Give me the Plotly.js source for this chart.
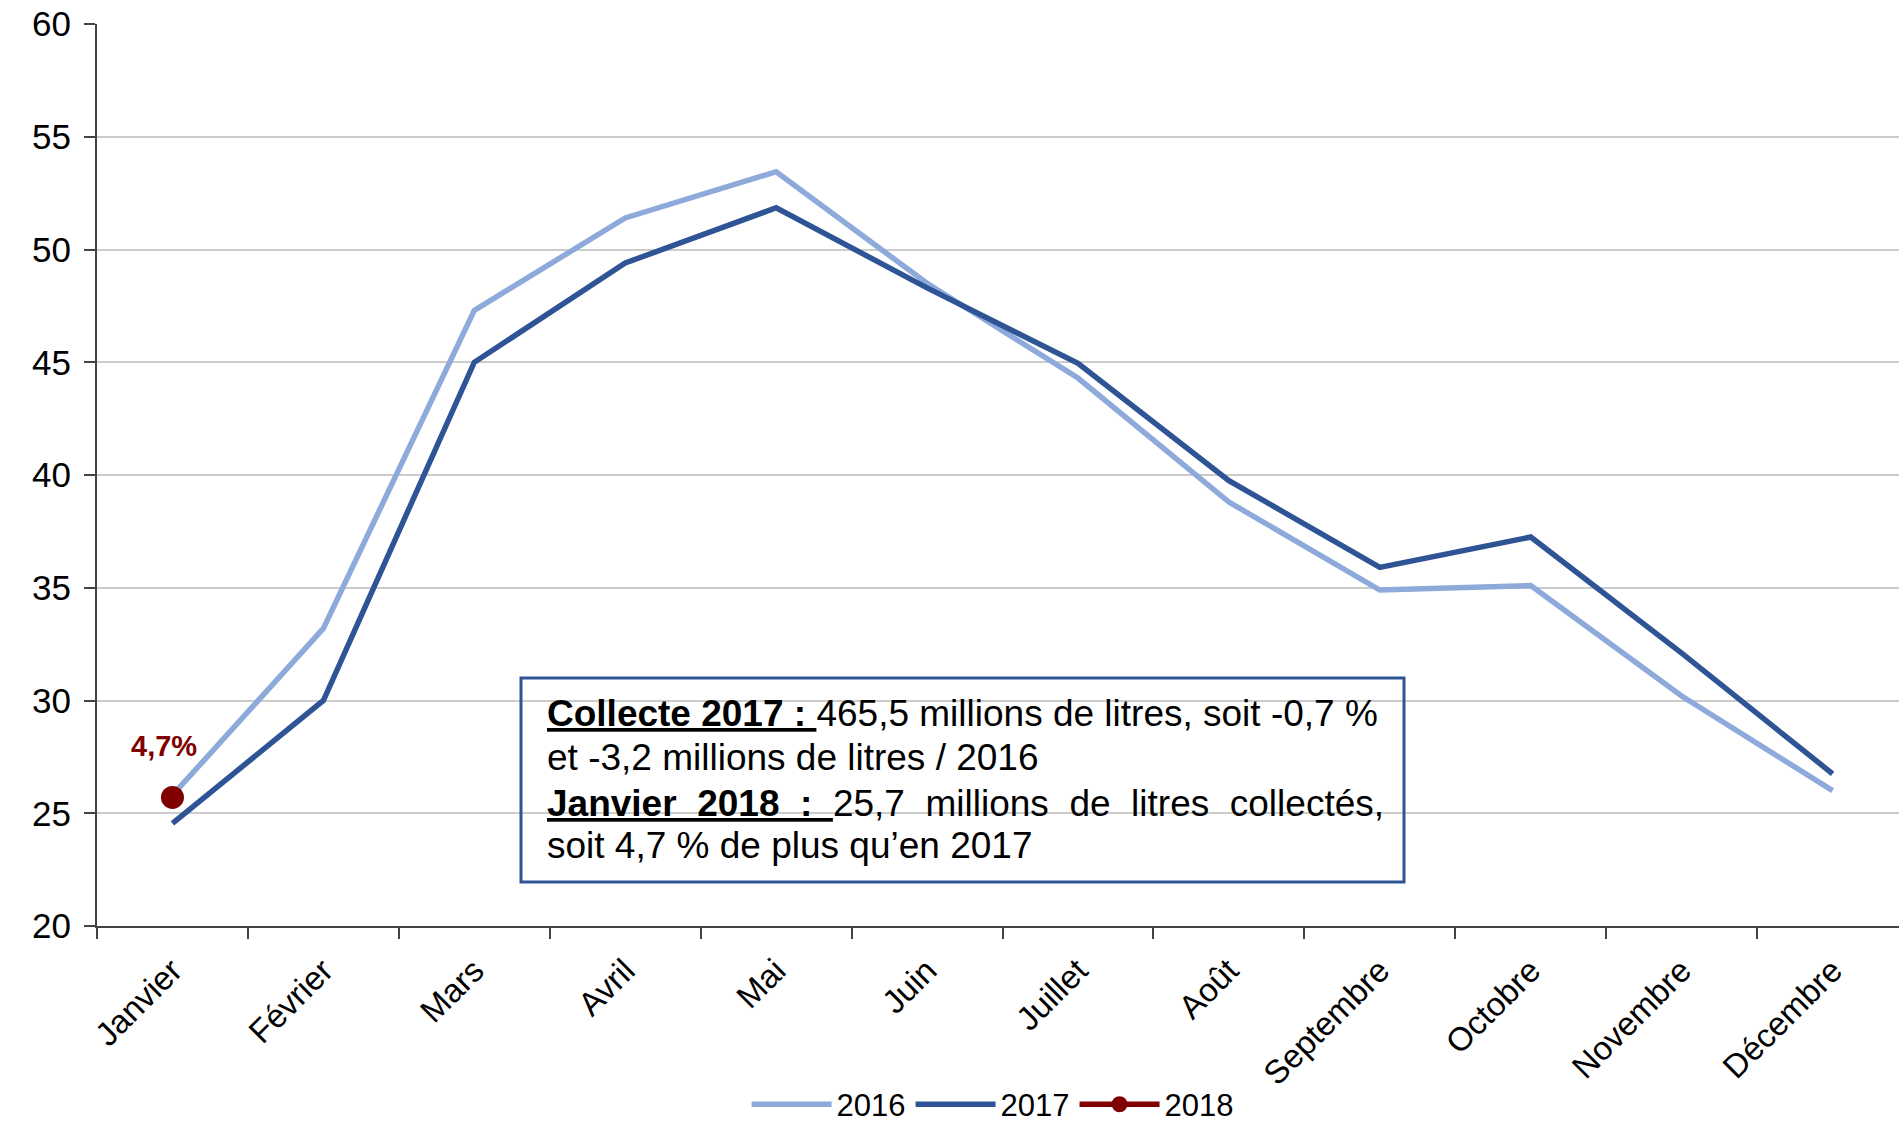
<!DOCTYPE html>
<html>
<head>
<meta charset="utf-8">
<script src="https://cdn.plot.ly/plotly-3.0.1.min.js"></script>
<style>html,body{margin:0;padding:0;background:#fff;}#chart{width:1899px;height:1124px;}</style>
</head>
<body>
<div id="chart"></div>
<script>
var months = ["Janvier","Février","Mars","Avril","Mai","Juin","Juillet","Août","Septembre","Octobre","Novembre","Décembre"];
var y2016 = [25.8, 33.2, 47.3, 51.4, 53.45, 48.5, 44.3, 38.8, 34.9, 35.1, 30.2, 26.0];
var y2017 = [24.55, 30.0, 45.0, 49.4, 51.85, 48.3, 44.95, 39.75, 35.9, 37.25, 32.1, 26.75];
var months2018 = ["Janvier"];
var y2018 = [25.7];
var label2018 = "4,7%";
var yTicks = [20, 25, 30, 35, 40, 45, 50, 55, 60];
var boxLines = [
  '<span style="text-decoration:underline"><b>Collecte 2017 : </b></span>465,5 millions de litres, soit -0,7 %',
  'et -3,2 millions de litres / 2016',
  '<span style="text-decoration:underline"><b>Janvier\u00a0\u00a02018\u00a0\u00a0:\u00a0\u00a0</b></span>25,7\u00a0\u00a0millions\u00a0\u00a0de\u00a0\u00a0litres\u00a0\u00a0collectés,',
  'soit 4,7 % de plus qu’en 2017'
];

var font = "Liberation Sans, Arial, sans-serif";
var traces = [
  {x: months, y: y2016, name: "2016", type: "scatter", mode: "lines",
   line: {color: "#8EAADB", width: 5.5}},
  {x: months, y: y2017, name: "2017", type: "scatter", mode: "lines",
   line: {color: "#2F5496", width: 5.5}},
  {x: months2018, y: y2018, name: "2018", type: "scatter", mode: "lines+markers",
   line: {color: "#800000", width: 5.5}, marker: {color: "#800000", size: 23}}
];

var lineY = [0.2361, 0.1863, 0.1353, 0.0887];
var annotations = boxLines.map(function (t, i) {
  return {xref: "paper", yref: "paper", x: 0.2486, y: lineY[i], xanchor: "left", yanchor: "middle",
    align: "left", showarrow: false, text: t, font: {family: font, size: 37, color: "#000"}};
});
annotations.push({xref: "x", yref: "y", x: months2018[0], y: y2018[0], xanchor: "center", yanchor: "bottom",
  yshift: 33, xshift: -8, showarrow: false, text: "<b>" + label2018 + "</b>",
  font: {family: font, size: 29, color: "#800000"}});

var layout = {
  width: 1899, height: 1124,
  margin: {l: 97, r: 0, t: 24, b: 198, autoexpand: false},
  paper_bgcolor: "#fff", plot_bgcolor: "#fff",
  showlegend: true,
  font: {family: font, color: "#000"},
  xaxis: {
    type: "category", categoryorder: "array", categoryarray: months,
    range: [-0.5, 11.44], tickangle: -45, tickson: "boundaries", automargin: false,
    ticks: "outside", ticklen: 11, tickwidth: 2, tickcolor: "#444",
    showline: true, linecolor: "#444", linewidth: 2,
    showgrid: false, zeroline: false, ticklabelstandoff: 10,
    tickfont: {family: font, size: 33, color: "#000"}
  },
  yaxis: {
    range: [20, 60], tickvals: yTicks, ticks: "outside", ticklen: 11, tickwidth: 2, tickcolor: "#444",
    showline: true, linecolor: "#444", linewidth: 2, automargin: false,
    showgrid: true, gridcolor: "#cccccc", gridwidth: 2, zeroline: false,
    tickfont: {family: font, size: 35, color: "#000"}, ticklabelstandoff: 6
  },
  legend: {orientation: "h", x: 0.497, xanchor: "center", y: -0.198, yanchor: "middle",
    font: {family: font, size: 31, color: "#000"}, bgcolor: "rgba(0,0,0,0)", itemwidth: 80,
    tracegroupgap: 0},
  shapes: [
    {type: "rect", xref: "paper", yref: "paper", x0: 0.2353, x1: 0.7253, y0: 0.0488, y1: 0.2749,
     line: {color: "#2F5496", width: 3}, fillcolor: "rgba(0,0,0,0)", layer: "above"}
  ],
  annotations: annotations
};

Plotly.newPlot("chart", traces, layout, {displayModeBar: false, staticPlot: true});
</script>
</body>
</html>
